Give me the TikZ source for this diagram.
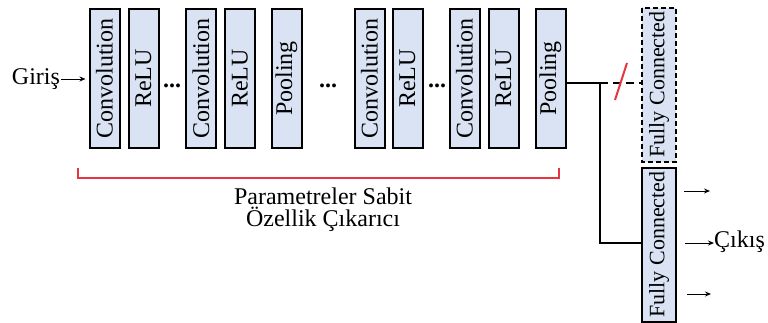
\documentclass[tikz,border=0pt]{standalone}
\usepackage{fontspec}
\setmainfont{Liberation Serif}
\usetikzlibrary{arrows.meta}
\definecolor{layerfill}{RGB}{218,227,243}
\definecolor{bracketred}{RGB}{232,52,64}
\tikzset{
  layer/.style={draw=black, line width=2pt, fill=layerfill, rotate=90,
    minimum width=139pt, minimum height=30pt, inner sep=0pt,
    font=\fontsize{24pt}{26pt}\selectfont},
  fclayer/.style={layer, minimum width=154pt, minimum height=34pt,
    font=\fontsize{22pt}{24pt}\selectfont},
  lbl/.style={font=\fontsize{24pt}{22pt}\selectfont, inner sep=0pt},
  dots/.style={font=\fontsize{24pt}{26pt}\bfseries, inner sep=0pt},
  link/.style={line width=2pt},
  thinarrow/.style={line width=1pt, -{Stealth[length=6pt,width=5pt]}},
}
\begin{document}
\begin{tikzpicture}[x=1pt, y=-1pt]
\useasboundingbox (0,0) rectangle (768,322);

% feature extractor layers
\node[layer] (c1) at (104.5,78.5) {Convolution};
\node[layer] (r1) at (143.5,78.5) {ReLU};
\node[dots] (d1) at (172,86) {...};
\node[layer] (c2) at (201,78.5) {Convolution};
\node[layer] (r2) at (240,78.5) {ReLU};
\node[layer] (p1) at (286.5,78.5) {Pooling};
\node[dots] (d2) at (328,86) {...};
\node[layer] (c3) at (369.5,78.5) {Convolution};
\node[layer] (r3) at (407.5,78.5) {ReLU};
\node[dots] (d3) at (437,86) {...};
\node[layer] (c4) at (464.5,78.5) {Convolution};
\node[layer] (r4) at (503.5,78.5) {ReLU};
\node[layer] (p2) at (550.5,78.5) {Pooling};

% input
\node[lbl] (giris) at (36,79) {Giriş};
\draw[thinarrow] ([xshift=1pt]giris.east) -- ([xshift=-3pt]c1.north |- giris.east);

% fully connected layers
\node[fclayer, dash pattern=on 5pt off 3pt] (fc1) at (659,84.5) {Fully Connected};
\node[fclayer] (fc2) at (659,244.5) {Fully Connected};

% connections from the last pooling layer
\coordinate (split) at (600,83);
\coordinate (bend) at (600,243);
\draw[link] (p2.south |- split) -- (split);
\draw[link, dash pattern=on 8pt off 5pt] (split) -- (fc1.north |- split);
\draw[link] (split) -- (bend) -- (fc2.north |- bend);
\coordinate (cutA) at (615,100);
\coordinate (cutB) at (627,63);
\draw[bracketred, line width=2pt] (cutA) -- (cutB);

% outputs
\node[lbl, anchor=west] (cikis) at (714,242) {Çıkış};
\coordinate (o1a) at (684,191);
\coordinate (o1b) at (710,191);
\coordinate (o2a) at (685,243);
\coordinate (o3a) at (687,294);
\coordinate (o3b) at (711,294);
\draw[thinarrow] (o1a) -- (o1b);
\draw[thinarrow] (o2a) -- (cikis.west |- o2a);
\draw[thinarrow] (o3a) -- (o3b);

% frozen feature extractor bracket
\coordinate (bl) at (78,168);
\coordinate (br) at (559,168);
\draw[bracketred, line width=2pt] (bl) -- ++(0,10) -| (br);
\node[lbl, align=center] (caption) at (323,210) {Parametreler Sabit\\Özellik Çıkarıcı};
\end{tikzpicture}
\end{document}
